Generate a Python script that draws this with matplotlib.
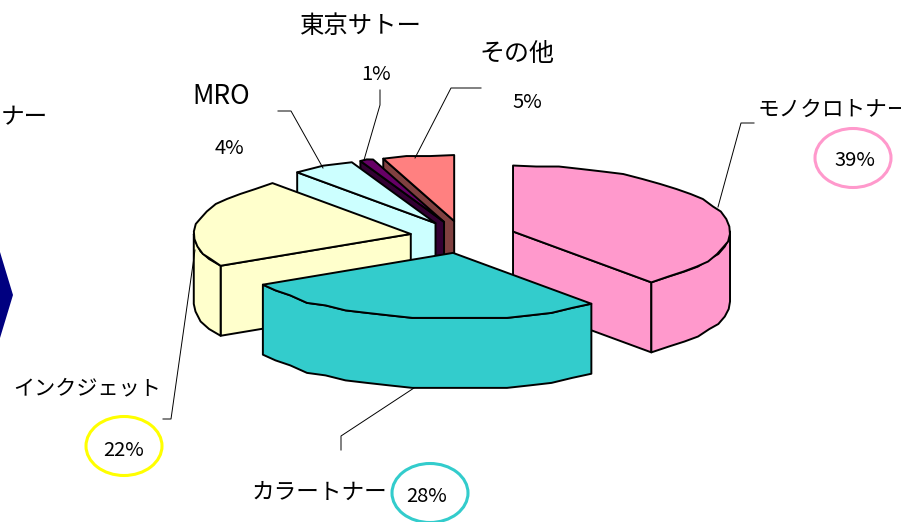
import numpy as np
import matplotlib
matplotlib.use("Agg")
import matplotlib.pyplot as plt
from matplotlib.patches import Ellipse, Polygon

plt.rcParams['font.family'] = ['Noto Sans CJK JP', 'DejaVu Sans']

# shares, clockwise from 12 o'clock
names = ['モノクロトナー', 'カラートナー', 'インクジェット', 'MRO', '東京サトー', 'その他']
shares = [39.0, 28.0, 22.0, 4.7, 1.0, 5.3]
top_colors = ['#FF99CC', '#33CCCC', '#FFFFCC', '#CCFFFF', '#660066', '#FF8080']
wall_colors = ['#FF99CC', '#33CCCC', '#FFFFCC', '#CCFFFF', '#330033', '#804040']
pct_labels = ['39%', '28%', '22%', '4%', '1%', '5%']

# pie geometry in pixels
cx, cy = 463, 237
rx, ry = 217, 66
explode = 0.245
height = 70

fig = plt.figure(figsize=(9.01, 5.22), dpi=100)
ax = fig.add_axes([0, 0, 1, 1])
ax.set_xlim(0, 901)
ax.set_ylim(522, 0)
ax.axis('off')


def pt(ang, ox, oy, r=1.0):
    return ox + r * rx * np.sin(ang), oy - r * ry * np.cos(ang)


def rim(a1, a2, ox, oy):
    # the rim in the original is a slightly stepped outline, so snap y to a rough grid
    n = max(int(np.degrees(a2 - a1) / 6), 2) + 1
    t = np.linspace(a1, a2, n)
    x, y = pt(t, ox, oy)
    y2 = oy + np.round((y - oy) / 2.5) * 2.5
    y2[[0, -1]] = y[[0, -1]]
    return x, y2


def draw_wedge(a1, a2, top, wall):
    mid = (a1 + a2) / 2
    ox, oy = pt(mid, cx, cy, explode)
    kw = dict(edgecolor='black', lw=1.4, joinstyle='round')

    # radial walls that face the viewer
    for a, show in ((a1, np.sin(a1) < -1e-6), (a2, np.sin(a2) > 1e-6)):
        if show:
            x, y = pt(a, ox, oy)
            ax.add_patch(Polygon([(ox, oy), (x, y), (x, y + height), (ox, oy + height)],
                                 facecolor=wall, **kw))

    # outer wall, only the front half of the rim
    lo, hi = max(a1, np.pi / 2), min(a2, 3 * np.pi / 2)
    if hi > lo:
        x, y = rim(lo, hi, ox, oy)
        pts = np.r_[np.c_[x, y], np.c_[x, y + height][::-1]]
        ax.add_patch(Polygon(pts, facecolor=wall, **kw))

    # top face
    x, y = rim(a1, a2, ox, oy)
    pts = np.r_[[(ox, oy)], np.c_[x, y]]
    ax.add_patch(Polygon(pts, facecolor=top, **kw))


edges = np.r_[0, np.cumsum(shares)] / sum(shares) * 2 * np.pi
wedges = [(edges[i], edges[i + 1], top_colors[i], wall_colors[i]) for i in range(len(shares))]

# back to front
for i in [5, 4, 3, 2, 0, 1]:
    draw_wedge(*wedges[i])

# leader lines
leaders = [
    ([754, 741, 718], [123, 123, 207]),
    ([341, 341, 414], [450, 436, 388]),
    ([163, 171, 195], [419, 419, 250]),
    ([278, 291, 323], [111, 111, 168]),
    ([380, 380, 364], [90, 105, 160]),
    ([481, 451, 415], [88, 88, 158]),
]
for lx, ly in leaders:
    ax.plot(lx, ly, color='black', lw=0.7)

# rings around the large percentages
for (ex, ey), col in zip([(853, 158), (430, 493), (124, 446)], ['#FF99CC', '#33CCCC', '#FFFF00']):
    ax.add_patch(Ellipse((ex, ey), 76, 59, facecolor='white', edgecolor=col, lw=2.2))

# arrow shape cut off by the left edge
ax.add_patch(Polygon([(-20, 252), (0, 252), (13, 295), (0, 338), (-20, 338)], facecolor='#000080', edgecolor='none'))

ax.text(758, 110, names[0], fontsize=15.6, ha='left', va='center')
ax.text(252, 492, names[1], fontsize=16.3, ha='left', va='center')
ax.text(13, 388, names[2], fontsize=15.2, ha='left', va='center')
ax.text(221, 97, names[3], fontsize=19, ha='center', va='center')
ax.text(361, 26, names[4], fontsize=17.6, ha='center', va='center')
ax.text(517, 54, names[5], fontsize=18, ha='center', va='center')
ax.text(48, 118, 'ナー', fontsize=17, ha='right', va='center')

pct_pos = [(855, 160), (427, 496), (124, 450), (229, 148), (376, 75), (527, 103)]
for (px, py), lab in zip(pct_pos, pct_labels):
    ax.text(px, py, lab, fontsize=14.5, ha='center', va='center')

fig.savefig('out.png', dpi=100)
